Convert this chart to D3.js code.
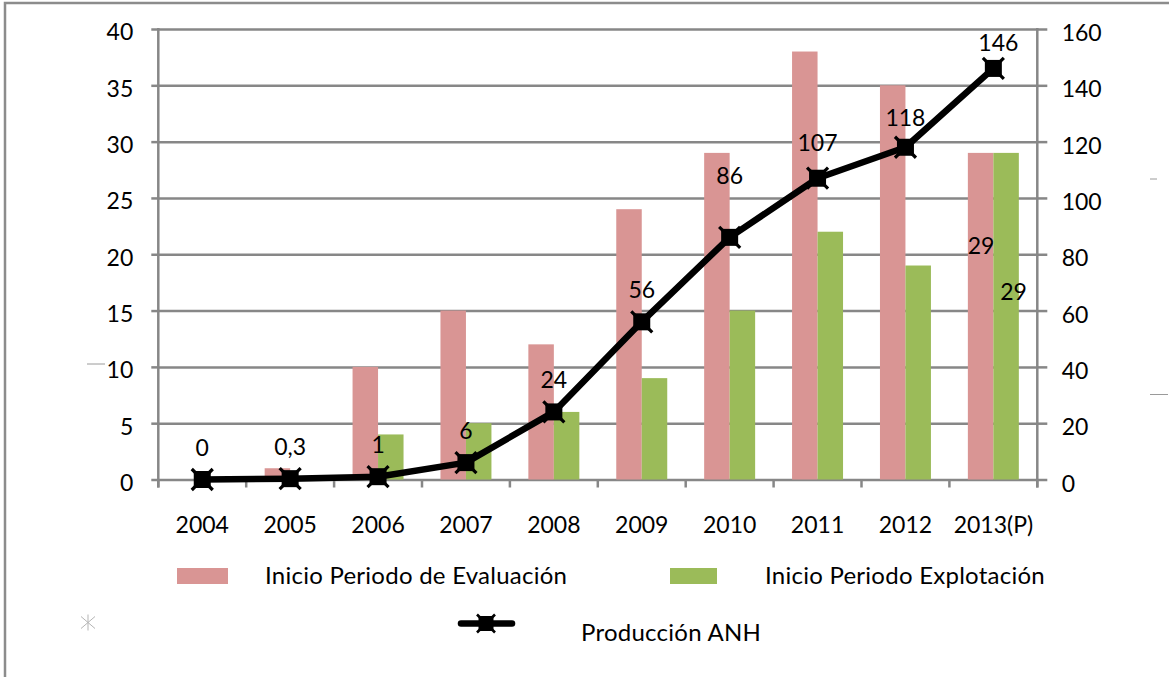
<!DOCTYPE html>
<html>
<head>
<meta charset="utf-8">
<script src="https://cdn.jsdelivr.net/npm/d3@7"></script>
<style>
  html, body { margin: 0; padding: 0; background: #fff; }
  svg { display: block; font-family: Lato, "Noto Sans", sans-serif; }
</style>
</head>
<body>
<svg id="chart" width="1169" height="677"></svg>
<script>
// Categories and series
const years = ["2004", "2005", "2006", "2007", "2008", "2009", "2010", "2011", "2012", "2013(P)"];
const evaluacion = [0, 1, 10, 15, 12, 24, 29, 38, 35, 29];
const explotacion = [0, 0, 4, 5, 6, 9, 15, 22, 19, 29];
const produccion = [0, 0.3, 1, 6, 24, 56, 86, 107, 118, 146];
const produccionLabels = ["0", "0,3", "1", "6", "24", "56", "86", "107", "118", "146"];
const leftTicks = [0, 5, 10, 15, 20, 25, 30, 35, 40];
const rightTicks = [0, 20, 40, 60, 80, 100, 120, 140, 160];
const seriesNames = ["Inicio Periodo de Evaluación", "Inicio Periodo Explotación", "Producción ANH"];

const PINK = "#D99594", GREEN = "#9BBB59", GRID = "#878787";
const FONT = 23;
const LEGEND_FONT = 24;
const FAMILY = "Lato, 'Noto Sans', sans-serif";

const svg = d3.select("#chart");
svg.append("rect").attr("width", 1169).attr("height", 677).attr("fill", "#fff");

// outer frame
svg.append("rect")
  .attr("x", 5).attr("y", 3).attr("width", 1200).attr("height", 700)
  .attr("fill", "none").attr("stroke", "#8c8c8c").attr("stroke-width", 2.5);

const L = 158.3, R = 1037.3, T = 29, B = 479.5;

const x = d3.scaleBand().domain(years).range([L, R]).padding(0);
const yL = d3.scaleLinear().domain([0, 40]).range([B, T]);
const yR = d3.scaleLinear().domain([0, 160]).range([B, T]);
const bw = x.bandwidth();
const barW = bw * 0.29;
const cx = d => x(d) + bw / 2;

// horizontal gridlines
svg.append("g")
  .attr("transform", `translate(${L},0)`)
  .call(d3.axisLeft(yL).tickValues(leftTicks).tickSize(-(R - L)).tickFormat(""))
  .call(g => g.select(".domain").remove())
  .call(g => g.selectAll("line").attr("stroke", GRID).attr("stroke-width", 2.5));

// left axis
svg.append("g")
  .attr("transform", `translate(${L},0)`)
  .call(d3.axisLeft(yL).tickValues(leftTicks).tickSize(7).tickSizeOuter(0).tickPadding(18))
  .call(g => g.select(".domain").remove())
  .call(g => g.selectAll("line").attr("stroke", GRID).attr("stroke-width", 2.5))
  .call(g => g.selectAll("text").attr("font-size", FONT).attr("fill", "#000")
    .attr("font-family", FAMILY).attr("dy", "0.47em"));

// right axis
svg.append("g")
  .attr("transform", `translate(${R},0)`)
  .call(d3.axisRight(yR).tickValues(rightTicks).tickSize(10).tickSizeOuter(0).tickPadding(14.4))
  .call(g => g.select(".domain").remove())
  .call(g => g.selectAll("line").attr("stroke", GRID).attr("stroke-width", 2.5))
  .call(g => g.selectAll("text").attr("font-size", FONT).attr("fill", "#000")
    .attr("font-family", FAMILY).attr("dy", "0.5em"));

// vertical axis lines
[L, R].forEach(px => {
  svg.append("line").attr("x1", px).attr("x2", px).attr("y1", T - 1).attr("y2", B + 8)
    .attr("stroke", GRID).attr("stroke-width", 2.5);
});

// category axis
svg.append("g")
  .attr("transform", `translate(0,${B})`)
  .call(d3.axisBottom(x).tickSize(0).tickPadding(0))
  .call(g => g.select(".domain").remove())
  .call(g => g.selectAll("text").attr("font-size", FONT).attr("fill", "#000")
    .attr("font-family", FAMILY).attr("y", 45.5).attr("dy", "0.36em"));

// category boundary ticks
svg.append("g").selectAll("line")
  .data(d3.range(years.length + 1))
  .join("line")
  .attr("x1", i => L + i * bw).attr("x2", i => L + i * bw)
  .attr("y1", B).attr("y2", B + 8)
  .attr("stroke", GRID).attr("stroke-width", 2.5);

// bars
svg.append("g").selectAll("rect")
  .data(years.map((y, i) => ({ y, v: evaluacion[i] })))
  .join("rect")
  .attr("x", d => cx(d.y) - barW)
  .attr("y", d => yL(d.v))
  .attr("width", barW)
  .attr("height", d => B - yL(d.v))
  .attr("fill", PINK);

svg.append("g").selectAll("rect")
  .data(years.map((y, i) => ({ y, v: explotacion[i] })))
  .join("rect")
  .attr("x", d => cx(d.y))
  .attr("y", d => yL(d.v))
  .attr("width", barW)
  .attr("height", d => B - yL(d.v))
  .attr("fill", GREEN);

// 2013 bar value labels
const last = years.length - 1;
svg.append("text")
  .attr("x", cx(years[last]) - barW / 2 + 0.5)
  .attr("y", yL(evaluacion[last]) + 93)
  .attr("text-anchor", "middle").attr("dy", "0.36em")
  .attr("font-size", FONT).text(String(evaluacion[last]));
svg.append("text")
  .attr("x", cx(years[last]) + barW / 2 + 7.5)
  .attr("y", yL(explotacion[last]) + 138.5)
  .attr("text-anchor", "middle").attr("dy", "0.36em")
  .attr("font-size", FONT).text(String(explotacion[last]));

// production line
const pts = years.map((y, i) => ({ y, v: produccion[i], label: produccionLabels[i] }));
svg.append("path")
  .datum(pts)
  .attr("fill", "none")
  .attr("stroke", "#000")
  .attr("stroke-width", 6.5)
  .attr("stroke-linejoin", "round")
  .attr("d", d3.line().x(d => cx(d.y)).y(d => yR(d.v)));

function marker(g) {
  g.append("rect").attr("x", -8.5).attr("y", -8.5).attr("width", 17).attr("height", 17).attr("fill", "#000");
  g.append("path").attr("d", "M-10.5,-10.5L10.5,10.5M-10.5,10.5L10.5,-10.5")
    .attr("stroke", "#000").attr("stroke-width", 3.2);
}

svg.append("g").selectAll("g")
  .data(pts)
  .join("g")
  .attr("transform", d => `translate(${cx(d.y)},${yR(d.v)})`)
  .each(function () { marker(d3.select(this)); });

// value labels above line points
const lift = { "2010": 62, "2011": 36, "2012": 30, "2013(P)": 26 };
const shift = { "2013(P)": 5 };
svg.append("g").selectAll("text")
  .data(pts)
  .join("text")
  .attr("x", d => cx(d.y) + (shift[d.y] || 0))
  .attr("y", d => yR(d.v) - (lift[d.y] || 32))
  .attr("text-anchor", "middle").attr("dy", "0.36em")
  .attr("font-size", FONT).attr("fill", "#000")
  .text(d => d.label);

// legend
const lg = svg.append("g").attr("font-size", LEGEND_FONT).attr("letter-spacing", 0.25);
lg.append("rect").attr("x", 177).attr("y", 568).attr("width", 51).attr("height", 16).attr("fill", PINK);
lg.append("text").attr("x", 265).attr("y", 575).attr("dy", "0.36em").text(seriesNames[0]);
lg.append("rect").attr("x", 670).attr("y", 568).attr("width", 47).attr("height", 16).attr("fill", GREEN);
lg.append("text").attr("x", 765).attr("y", 575).attr("dy", "0.36em").text(seriesNames[1]);
lg.append("line").attr("x1", 461).attr("x2", 512).attr("y1", 623.5).attr("y2", 623.5)
  .attr("stroke", "#000").attr("stroke-width", 6.5).attr("stroke-linecap", "round");
const lm = lg.append("g").attr("transform", "translate(486,623.5)");
lm.append("rect").attr("x", -7.5).attr("y", -7.5).attr("width", 15).attr("height", 15).attr("fill", "#000");
lm.append("path").attr("d", "M-9,-9L9,9M-9,9L9,-9").attr("stroke", "#000").attr("stroke-width", 2.6);
lg.append("text").attr("x", 581).attr("y", 632).attr("dy", "0.36em").text(seriesNames[2]);

// faint asterisk glyph lower left
svg.append("path")
  .attr("transform", "translate(88,622.5)")
  .attr("d", "M0,-8L0,8M-7,-6L7,6M-7,6L7,-6")
  .attr("stroke", "#b5b5b5").attr("stroke-width", 1).attr("fill", "none");

// faint hairline marks
[[87, 105, 364], [1150, 1157, 179], [1150, 1168, 394.5]].forEach(([a, b, yy]) => {
  svg.append("line").attr("x1", a).attr("x2", b).attr("y1", yy).attr("y2", yy)
    .attr("stroke", "#9a9a9a").attr("stroke-width", 1);
});
</script>
</body>
</html>
